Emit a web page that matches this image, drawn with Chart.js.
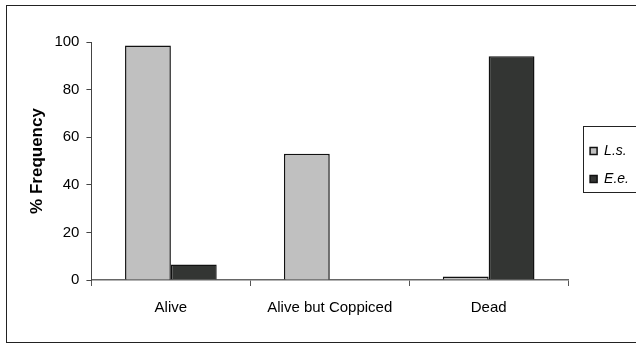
<!DOCTYPE html>
<html lang="en">
<head>
    <meta charset="UTF-8">
    <title>% Frequency</title>
    <style>
        body { margin: 0; background: #fff; }
        .chart-box { position: relative; width: 636px; height: 344px; }
    </style>
</head>
<body>
    <div class="chart-box">
        <canvas id="barChart"></canvas>
    </div>

    <script src="https://cdn.jsdelivr.net/npm/chart.js"></script>
    <script>
        // values
        const categories = ['Alive', 'Alive but Coppiced', 'Dead'];
        const lsValues = [98.5, 53, 1.5];
        const eeValues = [6.5, 0, 94];
        const seriesNames = ['L.s.', 'E.e.'];
        const yMin = 0, yMax = 100, yStep = 20;

        const font = "'Liberation Sans', Arial, sans-serif";

        // white page with the outer frame, plus the legend box
        const framePlugin = {
            id: 'frame',
            afterLayout(chart) {
                // nudge the legend a little right and down, as in the original
                const lg = chart.legend;
                lg.left += 8;
                lg.right += 8;
                lg.top += 4;
                lg.bottom += 4;
            },
            beforeDraw(chart) {
                const ctx = chart.ctx;
                ctx.save();
                ctx.fillStyle = '#fff';
                ctx.fillRect(0, 0, chart.width, chart.height);
                ctx.strokeStyle = '#222';
                ctx.lineWidth = 1;
                ctx.strokeRect(6.5, 5.5, chart.width + 20, chart.height - 7);
                ctx.restore();
            },
            afterDraw(chart) {
                // box round the legend, open on the right edge like the original
                const boxes = chart.legend.legendHitBoxes;
                if (!boxes || !boxes.length) return;
                const first = boxes[0], last = boxes[boxes.length - 1];
                const ctx = chart.ctx;
                ctx.save();
                ctx.strokeStyle = '#222';
                ctx.lineWidth = 1;
                const x = Math.round(first.left) - 6.5;
                const top = Math.round(first.top + first.height / 2) - 24.5;
                const bottom = Math.round(last.top + last.height / 2) + 13.5;
                ctx.strokeRect(x, top, chart.width + 20, bottom - top);
                ctx.restore();
            }
        };

        const ctx = document.getElementById('barChart').getContext('2d');
        new Chart(ctx, {
            type: 'bar',
            data: {
                labels: categories,
                datasets: [{
                    label: seriesNames[0],
                    data: lsValues,
                    backgroundColor: '#c0c0c0',
                    borderColor: '#111',
                    borderWidth: 1.5
                }, {
                    label: seriesNames[1],
                    data: eeValues,
                    backgroundColor: '#333533',
                    borderColor: '#111',
                    borderWidth: 1.5
                }]
            },
            options: {
                responsive: true,
                maintainAspectRatio: false,
                animation: false,
                datasets: {
                    bar: { categoryPercentage: 0.577, barPercentage: 1.0 }
                },
                layout: { padding: { left: 27, top: 42, right: 5, bottom: 14 } },
                plugins: {
                    tooltip: { enabled: false },
                    legend: {
                        display: true,
                        position: 'right',
                        fullSize: false,
                        labels: {
                            color: '#000',
                            boxWidth: 7,
                            boxHeight: 7,
                            padding: 14,
                            font: { family: font, size: 14, style: 'italic' }
                        }
                    }
                },
                scales: {
                    x: {
                        grid: {
                            display: true,
                            offset: true,
                            drawOnChartArea: false,
                            drawTicks: true,
                            tickLength: 6,
                            color: '#555'
                        },
                        border: { display: true, color: '#666', width: 1.5 },
                        ticks: {
                            color: '#000',
                            padding: 13,
                            font: { family: font, size: 15 }
                        }
                    },
                    y: {
                        min: yMin,
                        max: yMax,
                        grid: {
                            display: true,
                            drawOnChartArea: false,
                            drawTicks: true,
                            tickLength: 5,
                            color: '#444'
                        },
                        border: { display: true, color: '#444', width: 1 },
                        ticks: {
                            stepSize: yStep,
                            color: '#000',
                            padding: 7,
                            font: { family: font, size: 15 }
                        },
                        title: {
                            display: true,
                            text: '% Frequency',
                            color: '#000',
                            padding: { top: 0, bottom: 0 },
                            font: { family: font, size: 17, weight: 'bold' }
                        }
                    }
                }
            },
            plugins: [framePlugin]
        });
    </script>
</body>
</html>
